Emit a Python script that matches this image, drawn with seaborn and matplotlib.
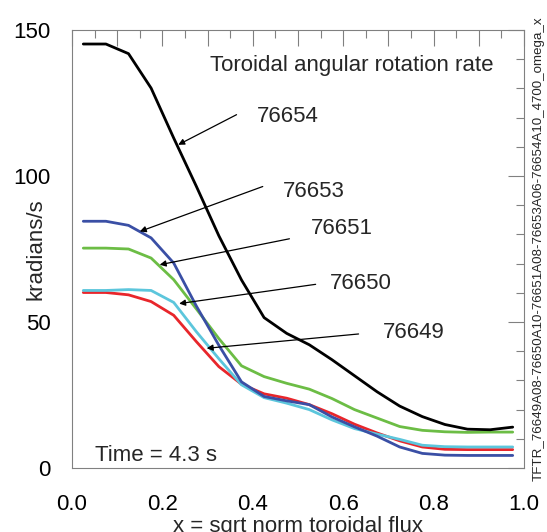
import matplotlib
matplotlib.use("Agg")
import matplotlib.pyplot as plt
import numpy as np
import pandas as pd
import seaborn as sns
from matplotlib.ticker import MultipleLocator, FuncFormatter

# ---------------- data ----------------
x_flux = [0.025, 0.075, 0.125, 0.175, 0.225, 0.275, 0.325, 0.375, 0.425, 0.475,
          0.525, 0.575, 0.625, 0.675, 0.725, 0.775, 0.825, 0.875, 0.925, 0.975]

omega_76654 = [145.2, 145.2, 141.9, 130.1, 113.0, 96.5, 79.5, 64.4, 51.5, 46.1,
               42.2, 37.1, 31.6, 26.1, 21.2, 17.6, 14.9, 13.3, 13.1, 14.0]
omega_76653 = [84.5, 84.5, 83.1, 78.8, 70.2, 55.5, 42.0, 29.5, 24.5, 23.0,
               21.7, 17.5, 14.1, 10.9, 7.2, 5.0, 4.4, 4.3, 4.3, 4.3]
omega_76651 = [75.3, 75.3, 75.0, 71.9, 64.5, 54.5, 44.3, 35.0, 31.3, 29.0,
               27.0, 23.8, 20.0, 17.1, 14.2, 12.9, 12.4, 12.2, 12.3, 12.3]
omega_76650 = [60.8, 60.8, 61.1, 60.8, 56.7, 46.7, 37.4, 28.5, 24.1, 22.2,
               20.0, 16.5, 13.5, 11.6, 9.8, 7.8, 7.3, 7.2, 7.2, 7.2]
omega_76649 = [60.1, 60.1, 59.3, 57.0, 52.3, 43.3, 34.7, 28.7, 25.4, 23.9,
               21.7, 18.6, 15.0, 12.0, 9.3, 7.2, 6.4, 6.3, 6.3, 6.3]

shots = ["76649", "76650", "76651", "76653", "76654"]
series = {"76649": omega_76649, "76650": omega_76650, "76651": omega_76651,
          "76653": omega_76653, "76654": omega_76654}
shot_colors = {"76649": "#e8262b", "76650": "#5cc6dc", "76651": "#6cbd45",
               "76653": "#3a4fa5", "76654": "#000000"}

x_tick_labels = ["0.0", "0.2", "0.4", "0.6", "0.8", "1.0"]
y_tick_labels = ["0", "50", "100", "150"]

rows = []
for s in shots:
    for xv, yv in zip(x_flux, series[s]):
        rows.append({"x": xv, "omega": yv, "shot": s})
df = pd.DataFrame(rows)

# ---------------- style ----------------
sns.set_style("white")
plt.rcParams["font.family"] = ["Liberation Sans", "DejaVu Sans"]
GRAY = "#808080"

fig = plt.figure(figsize=(5.47, 5.32), dpi=100)
ax = fig.add_axes([72 / 547, 1 - 468 / 532, (524 - 72) / 547, (468 - 30) / 532])

sns.lineplot(data=df, x="x", y="omega", hue="shot", hue_order=shots,
             palette=shot_colors, linewidth=2.0, legend=False, ax=ax,
             estimator=None, sort=False)

ax.set_xlim(0, 1)
ax.set_ylim(0, 150)

# ticks
ax.xaxis.set_major_locator(MultipleLocator(0.1))
ax.xaxis.set_minor_locator(MultipleLocator(0.05))
lab_map = {round(float(t), 1): t for t in x_tick_labels}
ax.xaxis.set_major_formatter(FuncFormatter(lambda v, p: lab_map.get(round(v, 1), "")))
ax.yaxis.set_major_locator(MultipleLocator(50))
ax.yaxis.set_minor_locator(MultipleLocator(10))
ylab_map = {int(t): t for t in y_tick_labels}
ax.yaxis.set_major_formatter(FuncFormatter(lambda v, p: ylab_map.get(int(round(v)), "")))

ax.tick_params(axis="both", which="both", direction="out", color=GRAY,
               width=0.8, top=False, right=False, labelsize=16, labelcolor="black")
ax.tick_params(axis="both", which="major", length=11.5)
ax.tick_params(axis="both", which="minor", length=5.8)
ax.tick_params(axis="x", which="major", pad=7)
ax.tick_params(axis="y", which="major", pad=4)

for side in ["left", "bottom"]:
    ax.spines[side].set_color(GRAY)
    ax.spines[side].set_linewidth(0.8)
ax.spines["top"].set_visible(False)
ax.spines["right"].set_visible(False)

secx = ax.secondary_xaxis("top")
secx.xaxis.set_major_locator(MultipleLocator(0.1))
secx.xaxis.set_minor_locator(MultipleLocator(0.05))
secx.tick_params(which="both", direction="in", color=GRAY, width=0.8, labeltop=False)
secx.tick_params(which="major", length=11.5)
secx.tick_params(which="minor", length=5.8)
secx.spines["top"].set_color(GRAY)
secx.spines["top"].set_linewidth(0.8)

secy = ax.secondary_yaxis("right")
secy.yaxis.set_major_locator(MultipleLocator(50))
secy.yaxis.set_minor_locator(MultipleLocator(10))
secy.tick_params(which="both", direction="in", color=GRAY, width=0.8, labelright=False)
secy.tick_params(which="major", length=11.5)
secy.tick_params(which="minor", length=5.8)
secy.spines["right"].set_color(GRAY)
secy.spines["right"].set_linewidth(0.8)

# labels
ax.set_xlabel("x = sqrt norm toroidal flux", fontsize=16, labelpad=1)
ax.set_ylabel("kradians/s", fontsize=16)
ax.yaxis.set_label_coords(-0.079, 0.5)
ax.yaxis.label.set_va("center")

ax.text(0.619, 138, "Toroidal angular rotation rate", fontsize=16,
        ha="center", va="center")
ax.text(0.05, 4.2, "Time = 4.3 s", fontsize=16, ha="left", va="center")

# annotations: (label, text pos, tail, head)
annots = [
    ("76654", (0.477, 120.3), (0.364, 121.0), (0.235, 110.7)),
    ("76653", (0.534, 94.6), (0.422, 96.4), (0.150, 81.0)),
    ("76651", (0.596, 81.9), (0.481, 78.5), (0.194, 69.6)),
    ("76650", (0.638, 63.1), (0.539, 62.9), (0.237, 56.3)),
    ("76649", (0.755, 46.5), (0.634, 45.9), (0.298, 41.0)),
]
for lab, tpos, tail, head in annots:
    ax.text(tpos[0], tpos[1], lab, fontsize=16, ha="center", va="center")
    ax.annotate("", xy=head, xytext=tail,
                arrowprops=dict(arrowstyle="-|>", color="black", lw=0.9,
                                mutation_scale=9, shrinkA=0, shrinkB=0))

fig.text(539 / 547, 1 - 481 / 532,
         "TFTR_76649A08-76650A10-76651A08-76653A06-76654A10_4700_omega_x",
         rotation=90, fontsize=9.6, ha="center", va="bottom")

fig.savefig("out.png", dpi=100)
